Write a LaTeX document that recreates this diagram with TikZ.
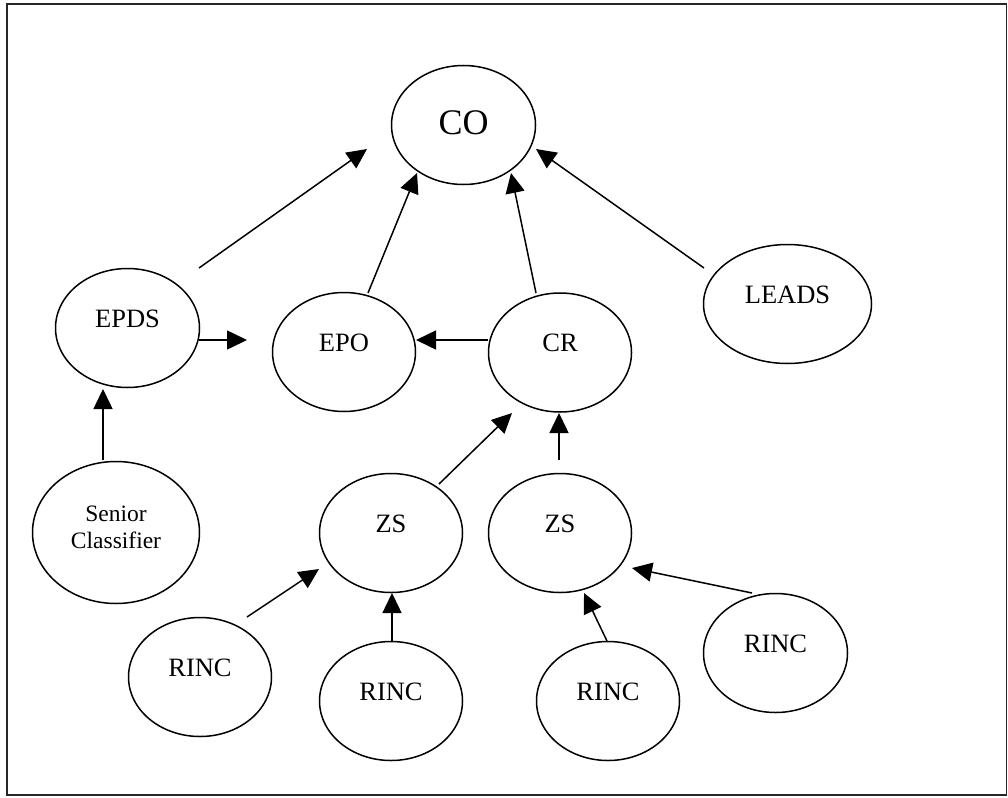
\documentclass[tikz,border=0pt]{standalone}
\usepackage{fontspec}
\setmainfont{Liberation Serif}
\usetikzlibrary{shapes.geometric,arrows.meta,calc}
\tikzset{
  ell/.style={ellipse, draw=black, line width=1.5pt, inner sep=0pt,
    minimum width=143pt, minimum height=119pt},
  lbl/.style={inner sep=0pt, yshift=9.5pt, font=\fontsize{26.5}{30}\selectfont},
  arr/.style={line width=1.5pt, -{Triangle[length=20pt,width=19pt]}},
}
\begin{document}
\begin{tikzpicture}[x=1pt,y=-1pt]
\useasboundingbox (0,0) rectangle (1008,797);
\draw[line width=1.8pt, black!85] (7,4) rectangle (1006.5,795);

\node[ell, minimum width=144pt, label={[inner sep=0pt, yshift=2pt, font=\fontsize{36}{40}\selectfont]center:CO}] (co) at (463.5,125) {};
\node[ell, minimum width=144pt, label={[lbl]center:EPDS}] (epds) at (127.5,328) {};
\node[ell, label={[lbl]center:EPO}] (epo) at (344,352) {};
\node[ell, label={[lbl]center:CR}] (cr) at (560,352.5) {};
\node[ell, minimum width=168pt, label={[lbl]center:LEADS}] (leads) at (787.5,304) {};
\node[ell, minimum width=167pt, minimum height=142pt,
  label={[inner sep=0pt, yshift=5pt, align=center, font=\fontsize{23.5}{26.5}\selectfont]center:Senior\\Classifier}] (sc) at (116,532.5) {};
\node[ell, label={[lbl]center:ZS}] (zsa) at (391,533) {};
\node[ell, label={[lbl]center:ZS}] (zsb) at (560,533) {};
\node[ell, label={[lbl]center:RINC}] (ra) at (200,677) {};
\node[ell, label={[lbl]center:RINC}] (rb) at (391,701) {};
\node[ell, label={[lbl]center:RINC}] (rc) at (608,701) {};
\node[ell, minimum width=144pt, label={[lbl]center:RINC}] (rd) at (775.5,653) {};

\draw[arr] ($(epds.center)+(71.5,-60)$) -- ($(co.center)+(-96.5,24)$);
\draw[arr] ($(epds.center)+(71.5,12)$) -- ($(epo.center)+(-97,-12)$);
\draw[arr] ($(epo.center)+(24,-59)$) -- ($(co.center)+(-46.5,48)$);
\draw[arr] ($(cr.center)+(-24,-59.5)$) -- ($(co.center)+(47.5,48)$);
\draw[arr] ($(leads.center)+(-83.5,-36)$) -- ($(co.center)+(72.5,24)$);
\draw[arr] ($(cr.center)+(-72,-12.5)$) -- ($(epo.center)+(72,-12)$);
\draw[arr] ($(zsa.center)+(48,-49)$) -- ($(cr.center)+(-48,60.5)$);
\draw[arr] ($(zsb.center)+(-1,-73)$) -- ($(cr.center)+(-1,60.5)$);
\draw[arr] ($(sc.center)+(-13,-72.5)$) -- ($(epds.center)+(-24.5,61)$);
\draw[arr] ($(ra.center)+(47,-60)$) -- ($(zsa.center)+(-72,36)$);
\draw[arr] ($(rb.center)+(1,-60)$) -- ($(zsa.center)+(1,60)$);
\draw[arr] ($(rc.center)+(-1,-60)$) -- ($(zsb.center)+(24,60)$);
\draw[arr] ($(rd.center)+(-23.5,-60)$) -- ($(zsb.center)+(72,35)$);
\end{tikzpicture}
\end{document}
